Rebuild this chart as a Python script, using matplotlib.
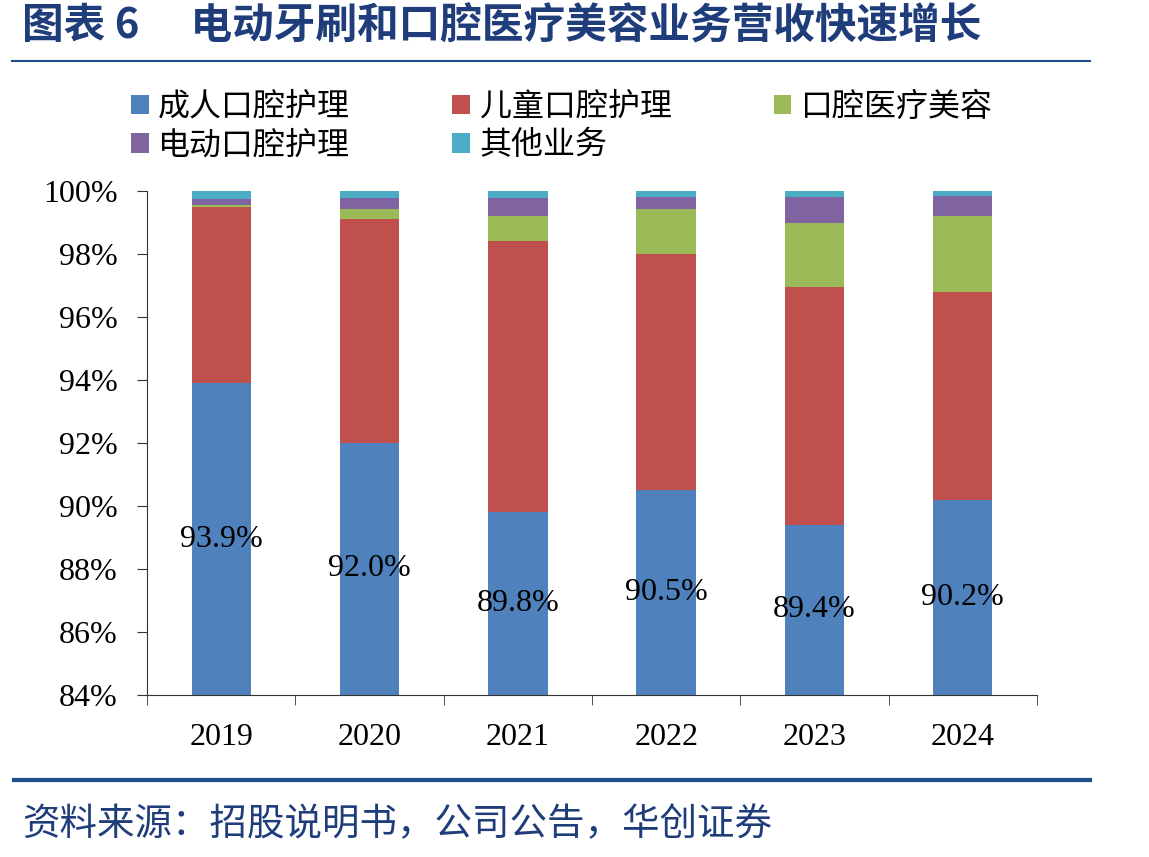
import numpy as np
import matplotlib
matplotlib.use('Agg')
import matplotlib.pyplot as plt
from matplotlib.patches import Patch

plt.rcParams['font.family'] = ['Liberation Serif', 'Noto Sans CJK SC', 'DejaVu Sans']

years = ['2019', '2020', '2021', '2022', '2023', '2024']
series_names = ['成人口腔护理', '儿童口腔护理', '口腔医疗美容', '电动口腔护理', '其他业务']
adult = [93.9, 92.0, 89.8, 90.5, 89.4, 90.2]
child = [5.60, 7.11, 8.62, 7.50, 7.56, 6.58]
beauty = [0.06, 0.31, 0.78, 1.43, 2.03, 2.43]
electric = [0.19, 0.37, 0.59, 0.38, 0.83, 0.63]
other = [0.25, 0.21, 0.21, 0.19, 0.18, 0.16]
colors = ['#4F81BD', '#C0504D', '#9BBB59', '#8064A2', '#4BACC6']

fig = plt.figure(figsize=(11.49, 8.57), dpi=100)
ax = fig.add_axes([147 / 1149, 1 - 695 / 857, 890 / 1149, 504 / 857])

x = np.arange(len(years))
bottom = np.zeros(len(years))
for vals, c in zip([adult, child, beauty, electric, other], colors):
    ax.bar(x, vals, 0.4, bottom=bottom, color=c, zorder=2)
    bottom += np.array(vals)

for i, v in enumerate(adult):
    ax.text(i, (84 + v) / 2, f'{v:.1f}%', ha='center', va='center',
            fontsize=23, family='Liberation Serif')

ax.set_ylim(84, 100)
ax.set_xlim(-0.5, len(years) - 0.5)
ax.set_yticks(np.arange(84, 101, 2))
ax.set_yticklabels([f'{t}%' for t in range(84, 101, 2)], fontsize=23)
ax.set_xticks(x)
ax.set_xticklabels(years, fontsize=23)
ax.set_xticks(np.arange(-0.5, len(years), 1), minor=True)
ax.tick_params(axis='x', which='major', length=0, pad=20)
ax.tick_params(axis='x', which='minor', length=7, direction='out', color='#333333')
ax.tick_params(axis='y', length=7, direction='out', color='#333333', pad=14)
for s in ['top', 'right']:
    ax.spines[s].set_visible(False)
for s in ['left', 'bottom']:
    ax.spines[s].set_color('#333333')

# legend is filled column by column, so reorder to get the row layout
order = [0, 3, 1, 4, 2]
handles = [Patch(facecolor=colors[k], label=series_names[k]) for k in order]
fig.legend(handles=handles, loc='upper left', bbox_to_anchor=(131 / 1149, 1 - 91 / 857),
           ncol=3, frameon=False, prop={'family': 'Noto Sans CJK SC', 'size': 23},
           handlelength=0.55, handleheight=0.55, handletextpad=0.3,
           columnspacing=3.2, labelspacing=0.2, borderpad=0, borderaxespad=0)

fig.text(22 / 1149, 1 - 27 / 857, '图表 6\u3000 电动牙刷和口腔医疗美容业务营收快速增长',
         fontsize=30, fontweight='bold', color='#1F3D7A', va='center',
         family=['Noto Sans CJK SC', 'DejaVu Sans'])
fig.add_artist(plt.Line2D([12 / 1149, 1090 / 1149], [1 - 61 / 857, 1 - 61 / 857],
                          color='#1F4E8C', lw=1.5))
fig.add_artist(plt.Line2D([14 / 1149, 1090 / 1149], [1 - 780 / 857, 1 - 780 / 857],
                          color='#1F4E8C', lw=3))
fig.text(22 / 1149, 1 - 825 / 857, '资料来源：招股说明书，公司公告，华创证券',
         fontsize=27, color='#1F3D7A', style='italic', va='center',
         family=['Noto Sans CJK SC', 'DejaVu Sans'])

fig.savefig('out.png', dpi=100)
